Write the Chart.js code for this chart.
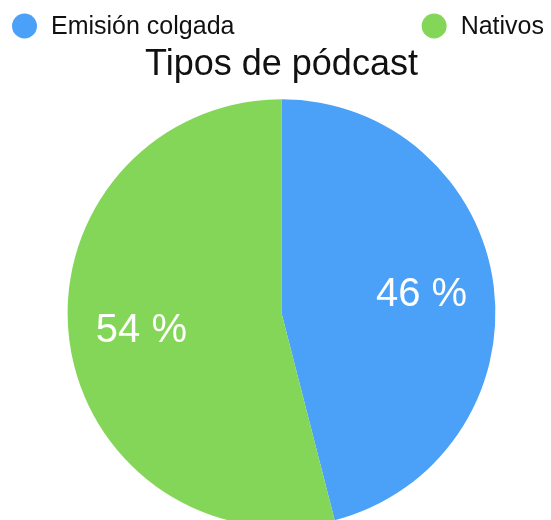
<!DOCTYPE html>
<html>
<head>
<meta charset="utf-8">
<script src="https://cdn.jsdelivr.net/npm/chart.js@4.4.1/dist/chart.umd.min.js"></script>
<style>
  html, body { margin: 0; padding: 0; background: #fff; overflow: hidden; }
  #wrap { width: 551px; height: 527px; }
</style>
</head>
<body>
<div id="wrap"><canvas id="myChart"></canvas></div>
<script>
// data
var tipos = ['Emisión colgada', 'Nativos'];
var porcentajes = [46, 54];
var colores = ['#4ba0f7', '#84d658'];

var fuente = '"Liberation Sans", Arial, Helvetica, sans-serif';

// legend: first item at left edge, last one pushed to the right edge
var leyendaSeparada = {
  id: 'leyendaSeparada',
  afterDraw: function (chart) {
    var ctx = chart.ctx;
    var labels = chart.data.labels;
    var bg = chart.data.datasets[0].backgroundColor;
    var r = 12.5, gap = 14, y = 26;
    ctx.save();
    ctx.font = '25px ' + fuente;
    ctx.textBaseline = 'middle';
    ctx.textAlign = 'left';
    labels.forEach(function (txt, i) {
      var w = 2 * r + gap + ctx.measureText(txt).width;
      var x = i === 0 ? 12 : chart.width - 7 - w;
      ctx.fillStyle = bg[i];
      ctx.beginPath();
      ctx.arc(x + r, y, r, 0, Math.PI * 2);
      ctx.fill();
      ctx.fillStyle = '#111';
      ctx.fillText(txt, x + 2 * r + gap, y + 1);
    });
    ctx.restore();
  }
};

// percent labels inside each slice
var etiquetas = {
  id: 'etiquetas',
  afterDatasetsDraw: function (chart) {
    var ctx = chart.ctx;
    var meta = chart.getDatasetMeta(0);
    ctx.save();
    ctx.font = '40px ' + fuente;
    ctx.fillStyle = '#fff';
    ctx.textAlign = 'center';
    ctx.textBaseline = 'middle';
    meta.data.forEach(function (arc, i) {
      var p = arc.getProps(['x', 'y', 'startAngle', 'endAngle', 'outerRadius'], true);
      var mid = (p.startAngle + p.endAngle) / 2;
      var rr = p.outerRadius * 0.66;
      ctx.fillText(porcentajes[i] + ' %', p.x + Math.cos(mid) * rr, p.y + Math.sin(mid) * rr);
    });
    ctx.restore();
  }
};

var myChart = new Chart(document.getElementById('myChart'), {
  type: 'pie',
  data: {
    labels: tipos,
    datasets: [{
      data: porcentajes,
      backgroundColor: colores,
      borderWidth: 0
    }]
  },
  options: {
    responsive: true,
    maintainAspectRatio: false,
    animation: false,
    layout: { padding: { left: 12, top: 0, right: 0, bottom: 0 } },
    plugins: {
      legend: { display: false },
      tooltip: { enabled: false },
      title: {
        display: true,
        text: 'Tipos de pódcast',
        color: '#111',
        font: { family: fuente, size: 36, weight: 'normal' },
        padding: { top: 43, bottom: 13 }
      }
    }
  },
  plugins: [leyendaSeparada, etiquetas]
});
</script>
</body>
</html>
